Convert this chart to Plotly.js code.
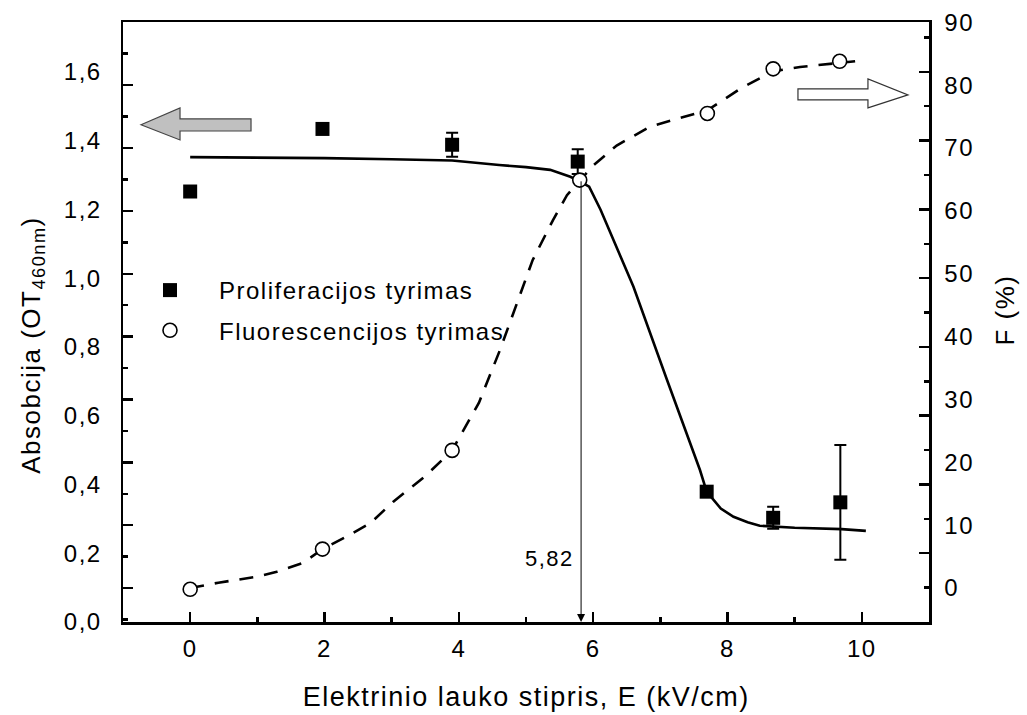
<!DOCTYPE html>
<html>
<head>
<meta charset="utf-8">
<script src="https://cdn.plot.ly/plotly-3.0.1.min.js"></script>
<style>
  html, body { margin: 0; padding: 0; background: #fff; }
  #chart { width: 1027px; height: 715px; }
  #chart svg text { letter-spacing: 1.5px; }
  #chart .legend .scrollbox { clip-path: none !important; }
</style>
</head>
<body>
<div id="chart"></div>
<script>
// Field strength E (kV/cm) and measurements
const E_prolif = [0, 1.97, 3.9, 5.77, 7.69, 8.68, 9.68];
const A_prolif = [1.252, 1.434, 1.388, 1.339, 0.379, 0.303, 0.348];
const A_err    = [0, 0, 0.035, 0.036, 0, 0.032, 0.167];

const E_fluor = [0, 1.97, 3.9, 5.8, 7.7, 8.68, 9.67];
const F_fluor = [-0.2, 6.2, 21.9, 64.9, 75.5, 82.6, 83.8];

// Fitted curves
const E_fitA = [0, 1, 2, 3, 3.9, 4.6, 5.0, 5.36, 5.66, 5.81, 5.94, 6.11, 6.6, 7.1, 7.59, 7.69, 7.9, 8.09, 8.3, 8.48, 8.68, 9.0, 9.7, 10.06];
const A_fit  = [1.352, 1.351, 1.349, 1.346, 1.342, 1.329, 1.323, 1.315, 1.295, 1.281, 1.266, 1.199, 0.975, 0.704, 0.442, 0.379, 0.33, 0.306, 0.29, 0.28, 0.277, 0.274, 0.270, 0.265];

const E_fitF = [0, 0.42, 0.99, 1.29, 1.68, 1.97, 2.33, 2.68, 3.02, 3.5, 3.9, 4.3, 4.61, 4.84, 5.10, 5.40, 5.61, 5.81, 6.0, 6.35, 6.85, 7.3, 7.7, 8.2, 8.68, 9.08, 9.5, 9.9];
const F_fit  = [0, 0.85, 1.8, 2.6, 4.0, 6.2, 8.2, 10.3, 13.7, 17.8, 21.9, 29.5, 37.8, 44.7, 52.2, 58.5, 62.5, 64.9, 67.2, 70.4, 73.4, 74.8, 76.0, 79.5, 82.2, 82.9, 83.4, 83.8];

// Threshold field marked on the x axis
const E_threshold = 5.82;
const A_threshold_top = 1.286;
const thresholdLabel = '5,82';

const seriesNames = ['Proliferacijos tyrimas', 'Fluorescencijos tyrimas'];

// Block arrows showing which axis each series belongs to (x in kV/cm, y in A units)
const arrowLeft  = [[-0.732, 1.446], [-0.151, 1.495], [-0.151, 1.463], [0.906, 1.463], [0.906, 1.428], [-0.151, 1.428], [-0.151, 1.402]];
const arrowRight = [[9.049, 1.5505], [10.091, 1.5505], [10.091, 1.5796], [10.687, 1.5331], [10.091, 1.4953], [10.091, 1.5185], [9.049, 1.5185]];

function toPath(pts) {
  return 'M ' + pts.map(p => p[0] + ',' + p[1]).join(' L ') + ' Z';
}

const FONT = 'Liberation Sans, Arial, sans-serif';

const traces = [
  {
    x: E_fitA, y: A_fit, type: 'scatter', mode: 'lines', yaxis: 'y',
    line: { color: '#000', width: 2.6 }, showlegend: false, hoverinfo: 'skip'
  },
  {
    x: E_fitF, y: F_fit, type: 'scatter', mode: 'lines', yaxis: 'y2',
    line: { color: '#000', width: 2.6, dash: '14px,11px' }, showlegend: false, hoverinfo: 'skip'
  },
  {
    x: E_prolif, y: A_prolif, type: 'scatter', mode: 'markers', yaxis: 'y',
    name: seriesNames[0], legendgroup: 'a',
    marker: { symbol: 'square', size: 14, color: '#000' },
    error_y: { type: 'data', array: A_err, visible: true, color: '#000', thickness: 2, width: 6 }
  },
  {
    x: E_fluor, y: F_fluor, type: 'scatter', mode: 'markers', yaxis: 'y2',
    name: seriesNames[1], legendgroup: 'b',
    marker: { symbol: 'circle', size: 14, color: '#fff', line: { color: '#000', width: 1.6 } }
  },
  // carriers for the tick-only axes
  { x: [], y: [], type: 'scatter', yaxis: 'y3', showlegend: false, hoverinfo: 'skip' },
  { x: [], y: [], type: 'scatter', yaxis: 'y4', showlegend: false, hoverinfo: 'skip' }
];

const A_range = [0, 1.745];
const F_range = [-5.4, 90.05];

const layout = {
  width: 1027, height: 715,
  paper_bgcolor: '#fff', plot_bgcolor: '#fff',
  margin: { l: 123, r: 98, t: 22, b: 93 },
  separators: ',.',
  font: { family: FONT, color: '#000', size: 24 },
  showlegend: true,
  legend: {
    x: -0.0025, y: 0.59, xanchor: 'left', yanchor: 'top',
    bgcolor: 'rgba(0,0,0,0)', font: { size: 24, family: FONT },
    traceorder: 'grouped', tracegroupgap: 6, itemwidth: 88
  },
  xaxis: {
    range: [-1, 11], showgrid: false, zeroline: false,
    showline: true, linewidth: 2.5, linecolor: '#000', mirror: true,
    ticks: 'inside', ticklen: 10, tickwidth: 2.5, tickcolor: '#000',
    tick0: 0, dtick: 2,
    minor: { ticks: 'inside', ticklen: 5, tickwidth: 2.5, tickcolor: '#000', tick0: 0, dtick: 1, showgrid: false },
    tickfont: { size: 24 }, ticklabelstandoff: 4
  },
  yaxis: {
    range: A_range, showgrid: false, zeroline: false,
    showline: true, linewidth: 2.5, linecolor: '#000',
    ticks: '', tick0: 0, dtick: 0.2, tickformat: '.1f',
    tickfont: { size: 24 }, ticklabelstandoff: 14
  },
  yaxis2: {
    overlaying: 'y', side: 'right', anchor: 'x',
    range: F_range, showgrid: false, zeroline: false,
    showline: true, linewidth: 2.5, linecolor: '#000',
    ticks: '', tick0: 0, dtick: 10,
    tickfont: { size: 24 }, ticklabelstandoff: 8
  },
  yaxis3: {
    overlaying: 'y', side: 'left', anchor: 'x',
    range: F_range, showgrid: false, zeroline: false, showline: false,
    showticklabels: false,
    ticks: 'inside', ticklen: 10, tickwidth: 2.5, tickcolor: '#000', tick0: 0, dtick: 10,
    minor: { ticks: 'inside', ticklen: 5, tickwidth: 2.5, tickcolor: '#000', tick0: 0, dtick: 5, showgrid: false }
  },
  yaxis4: {
    overlaying: 'y', side: 'right', anchor: 'x',
    range: A_range, showgrid: false, zeroline: false, showline: false,
    showticklabels: false,
    ticks: 'inside', ticklen: 10, tickwidth: 2.5, tickcolor: '#000', tick0: 0, dtick: 0.2,
    minor: { ticks: 'inside', ticklen: 5, tickwidth: 2.5, tickcolor: '#000', tick0: 0, dtick: 0.1, showgrid: false }
  },
  shapes: [
    { type: 'path', xref: 'x', yref: 'y', path: toPath(arrowLeft),
      fillcolor: '#c0c0c0', line: { color: '#444', width: 1.2 } },
    { type: 'path', xref: 'x', yref: 'y', path: toPath(arrowRight),
      fillcolor: '#fff', line: { color: '#333', width: 1.2 } }
  ],
  annotations: [
    { x: E_threshold, y: 0, xref: 'x', yref: 'y',
      ax: E_threshold, ay: A_threshold_top, axref: 'x', ayref: 'y',
      showarrow: true, arrowhead: 2, arrowsize: 1.6, arrowwidth: 1, arrowcolor: '#000', text: '' },
    { x: 5.70, y: 0.185, xref: 'x', yref: 'y', xanchor: 'right', yanchor: 'middle',
      text: thresholdLabel, showarrow: false, font: { size: 22 } },
    { x: 0.5, y: -0.125, xref: 'paper', yref: 'paper', xanchor: 'center', yanchor: 'middle',
      text: 'Elektrinio lauko stipris, E (kV/cm)', showarrow: false, font: { size: 27 } },
    { x: -0.112, y: 0.462, xref: 'paper', yref: 'paper', xanchor: 'center', yanchor: 'middle',
      textangle: -90, text: 'Absobcija (OT<sub>460nm</sub>)', showarrow: false, font: { size: 26 } },
    { x: 1.094, y: 0.52, xref: 'paper', yref: 'paper', xanchor: 'center', yanchor: 'middle',
      textangle: -90, text: 'F (%)', showarrow: false, font: { size: 26 } }
  ]
};

Plotly.newPlot('chart', traces, layout, { staticPlot: true, displayModeBar: false });
</script>
</body>
</html>
